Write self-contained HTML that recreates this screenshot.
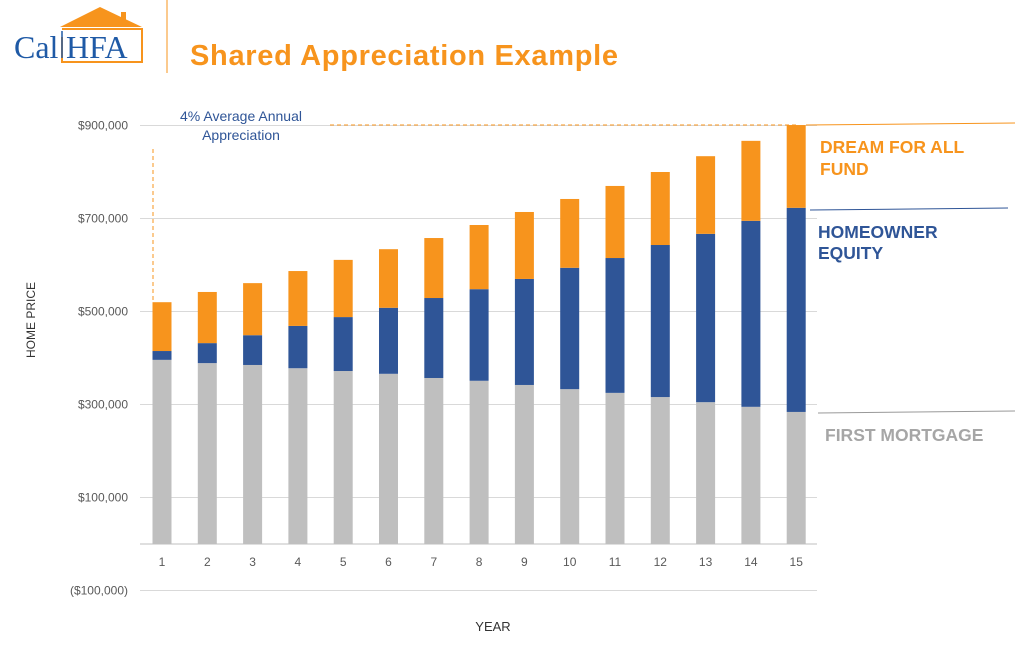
<!DOCTYPE html>
<html><head><meta charset="utf-8"><style>
body{margin:0;background:#fff;width:1031px;height:645px;overflow:hidden;font-family:"Liberation Sans",sans-serif}
svg{display:block}
</style></head><body>
<svg id="c" width="1031" height="645" xmlns="http://www.w3.org/2000/svg">
<g>
<polygon points="60,27 100,7 142,27" fill="#f7941d"/>
<rect x="121" y="12" width="5" height="10" fill="#f7941d"/>
<polyline points="62,37 62,62 142,62 142,29 62,29" fill="none" stroke="#f7941d" stroke-width="2"/>
<text x="14" y="58" font-family="Liberation Serif,serif" font-size="32" fill="#1f5aa6">Cal</text>
<text x="66" y="58" font-family="Liberation Serif,serif" font-size="32" fill="#1f5aa6">HFA</text>
<line x1="62" y1="31" x2="62" y2="58" stroke="#1f5aa6" stroke-width="1.5"/>
</g>
<line x1="167" y1="0" x2="167" y2="73" stroke="#f7941d" stroke-width="1"/>
<text x="190" y="65" font-size="29" font-weight="bold" fill="#f7941d" textLength="428">Shared Appreciation Example</text>
<g id="grid"></g>
<g id="bars"></g>
<text x="35" y="320" font-size="12" fill="#333" transform="rotate(-90 35 320)" text-anchor="middle">HOME PRICE</text>
<text x="493" y="631" font-size="13" fill="#333" text-anchor="middle">YEAR</text>
<text x="241" y="121" font-size="14" fill="#2f5597" text-anchor="middle">4% Average Annual</text>
<text x="241" y="140" font-size="14" fill="#2f5597" text-anchor="middle">Appreciation</text>
<line x1="153" y1="149" x2="153" y2="302" stroke="#f7941d" stroke-dasharray="4,3"/>
<line x1="330" y1="125" x2="796" y2="125" stroke="#f7941d" stroke-dasharray="4,3"/>
<line x1="806" y1="125" x2="1015" y2="123" stroke="#f7941d"/>
<line x1="810" y1="210" x2="1008" y2="208" stroke="#2f5597"/>
<line x1="818" y1="413" x2="1015" y2="411" stroke="#999"/>
<text x="820" y="153" font-size="17.5" font-weight="bold" fill="#f7941d"><tspan x="820">DREAM FOR ALL</tspan><tspan x="820" dy="22">FUND</tspan></text>
<text x="818" y="238" font-size="17.5" font-weight="bold" fill="#2f5597"><tspan x="818">HOMEOWNER</tspan><tspan x="818" dy="21">EQUITY</tspan></text>
<text x="825" y="441" font-size="17.5" font-weight="bold" fill="#a6a6a6">FIRST MORTGAGE</text>
</svg>
<script>
const years=[1,2,3,4,5,6,7,8,9,10,11,12,13,14,15];
const mortgage=[396,389,385,378,372,366,357,351,342,333,325,316,305,295,284];
const equityTop=[415,432,449,469,488,508,529,548,570,594,615,643,667,695,723];
const totalPrice=[520,542,561,587,611,634,658,686,714,742,770,800,834,867,901];
const yTicks=[-100,100,300,500,700,900];
const yTickLabels=["($100,000)","$100,000","$300,000","$500,000","$700,000","$900,000"];
const NS="http://www.w3.org/2000/svg";
function y(v){return 544-v*0.465;}
function x(i){return 162+i*45.3;}
function mk(t,a,p){const e=document.createElementNS(NS,t);for(const k in a)e.setAttribute(k,a[k]);p.appendChild(e);return e;}
const g=document.getElementById('grid'),b=document.getElementById('bars');
yTicks.forEach((v,i)=>{
 const l=mk('line',{x1:140,x2:817,y1:y(v),y2:y(v),stroke:'#d9d9d9','stroke-width':1},g);
 
 
 const t=mk('text',{x:128,y:y(v)+4,'font-size':12,fill:'#595959','text-anchor':'end'},g);
 t.textContent=yTickLabels[i];
 
 
});
const base=mk('line',{x1:140,x2:817,y1:y(0),y2:y(0),stroke:'#bfbfbf','stroke-width':1},g);


years.forEach((yr,i)=>{
 const cx=x(i),w=19;
 const r1=mk('rect',{x:cx-w/2,y:y(mortgage[i]),width:w,height:y(0)-y(mortgage[i]),fill:'#bfbfbf'},b);
 
 
 const r2=mk('rect',{x:cx-w/2,y:y(equityTop[i]),width:w,height:y(mortgage[i])-y(equityTop[i]),fill:'#2f5597'},b);
 
 
 const r3=mk('rect',{x:cx-w/2,y:y(totalPrice[i]),width:w,height:y(equityTop[i])-y(totalPrice[i]),fill:'#f7941d'},b);
 
 
 const t=mk('text',{x:cx,y:566,'font-size':12,fill:'#595959','text-anchor':'middle'},b);
 t.textContent=yr;
 
 
});
</script>
</body></html>
